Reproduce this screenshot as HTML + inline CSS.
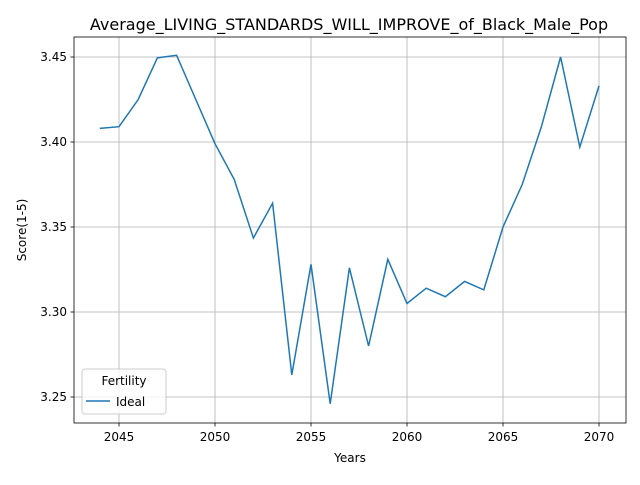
<!DOCTYPE html>
<html><head><meta charset="utf-8"><style>
body{margin:0;background:#fff;font-family:"Liberation Sans","DejaVu Sans",sans-serif}
text{font-family:"DejaVu Sans","Liberation Sans",sans-serif}
</style></head><body>
<svg id="chart" width="640" height="480">
<rect width="640" height="480" fill="#fff"/>
<text x="349" y="30" text-anchor="middle" font-size="16">Average_LIVING_STANDARDS_WILL_IMPROVE_of_Black_Male_Pop</text>
<g id="grid"></g>
<rect x="74" y="37" width="552" height="386" fill="none" stroke="#000" stroke-width="0.8"/>
<g id="ticks"></g>
<g id="series"></g>
<text x="350" y="462" text-anchor="middle" font-size="12">Years</text>
<text x="26" y="230" text-anchor="middle" font-size="12" transform="rotate(-90 26 230)">Score(1-5)</text>
<g>
<rect x="82" y="369" width="84" height="45" rx="3" fill="#fff" fill-opacity="0.8" stroke="#ccc"/>
<text x="124" y="385" text-anchor="middle" font-size="12">Fertility</text>
<line x1="86" y1="401" x2="110" y2="401" stroke="#1f77b4" stroke-width="1.5"/>
<text x="116" y="406" font-size="12">Ideal</text>
</g>
</svg>
<script>
const years=[2044,2045,2046,2047,2048,2049,2050,2051,2052,2053,2054,2055,2056,2057,2058,2059,2060,2061,2062,2063,2064,2065,2066,2067,2068,2069,2070];
const scores=[3.408,3.409,3.425,3.4495,3.451,3.425,3.399,3.378,3.3435,3.364,3.263,3.328,3.246,3.326,3.280,3.331,3.305,3.314,3.309,3.318,3.313,3.350,3.375,3.409,3.450,3.397,3.433];
const xTicks=[2045,2050,2055,2060,2065,2070];
const yTicks=[3.25,3.30,3.35,3.40,3.45];
const NS="http://www.w3.org/2000/svg";
function xs(v){return 119+(v-2045)*19.2;}
function ys(v){return 397-(v-3.25)*1700;}
function mk(tag,attrs,parent){const e=document.createElementNS(NS,tag);for(const k in attrs)e.setAttribute(k,attrs[k]);parent.appendChild(e);return e;}
const grid=document.getElementById('grid'),ticks=document.getElementById('ticks'),series=document.getElementById('series');
xTicks.forEach(t=>{const x=xs(t);
 mk('line',{x1:x,x2:x,y1:37,y2:423,stroke:'#b0b0b0','stroke-width':0.8},grid);
 mk('line',{x1:x,x2:x,y1:423,y2:426.5,stroke:'#000','stroke-width':0.8},ticks);
 const tx=mk('text',{x:x,y:441,'text-anchor':'middle','font-size':12},ticks);tx.textContent=t;
 
 });
yTicks.forEach(t=>{const y=ys(t);
 mk('line',{x1:74,x2:626,y1:y,y2:y,stroke:'#b0b0b0','stroke-width':0.8},grid);
 mk('line',{x1:70.5,x2:74,y1:y,y2:y,stroke:'#000','stroke-width':0.8},ticks);
 const tx=mk('text',{x:67,y:y+4,'text-anchor':'end','font-size':12},ticks);tx.textContent=t.toFixed(2);
 
 });
const pts=years.map((y,i)=>xs(y)+','+ys(scores[i])).join(' ');
const pl=mk('polyline',{points:pts,fill:'none',stroke:'#1f77b4','stroke-width':1.5},series);


</script>
</body></html>
